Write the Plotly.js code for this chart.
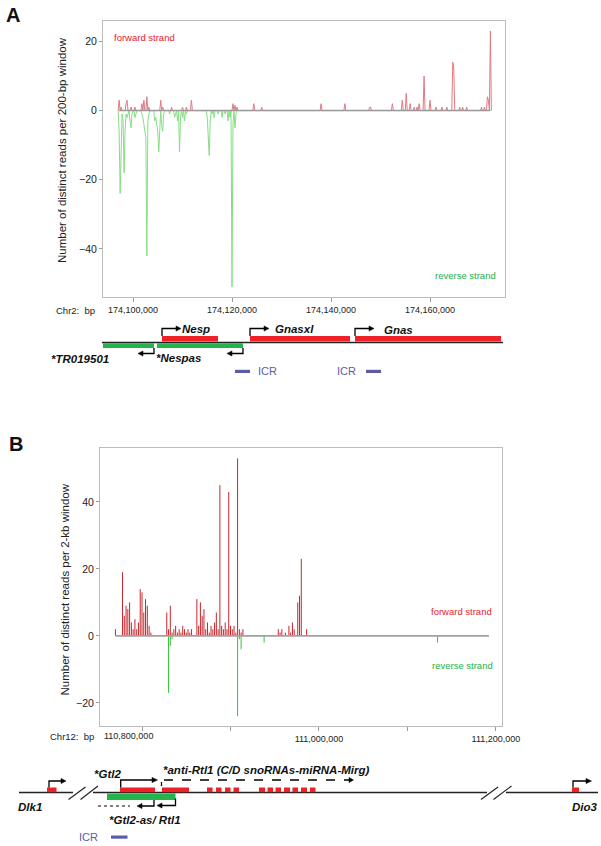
<!DOCTYPE html>
<html><head><meta charset="utf-8">
<script src="https://cdn.plot.ly/plotly-3.0.1.min.js"></script>
<style>html,body{margin:0;padding:0;background:#fff}#chart{width:601px;height:846px}</style>
</head><body><div id="chart"></div>
<script>
// ---------------- Panel A data (200-bp windows, Chr2) ----------------
const fwdA_pos = [174097200,174097600,174098600,174098800,174099600,174100400,174101800,174102200,174102800,174103200,
  174105600,174106000,174107800,174110000,174110800,174111800,174120200,174120600,174121000,174124400,174126000,
  174138000,174142800,174147800,174148000,174152400,174154400,174155200,174156000,174156800,174157400,174157800,
  174158800,174160000,174161200,174162400,174163400,174164600,174164800,174166000,174166600,174167400,174170400,
  174171000,174171600,174171800,174172200];
const fwdA_val = [3,1,2,3,1,1,2,3,4,1,
  3,1,1,1,1,3,2,1.5,1,2,1,
  2,2,1,1,2,3,5,2,1,1,2,
  10,3,1,1,1,14,12,1,1,1,1,
  1,4,3,23];
const revA_pos = [174097200,174097400,174097600,174097800,174098000,174098200,174098400,174098600,174098800,174099000,
  174099400,174099600,174099800,174100400,174100600,
  174101800,174102000,174102200,174102400,174102600,174102800,174103000,174103200,
  174104400,174104600,174104800,174105000,174105200,174105400,174105800,174106000,174106200,
  174107400,174108400,174108600,174109000,174109400,174109600,174110000,174110400,174110800,
  174115000,174115200,174115400,174115600,174116000,174116400,174117200,174118000,174118600,174119200,174119600,
  174120000,174120200,174120600,174120800];
const revA_val = [-6,-24,-8,-1,-3,-18,-6,-1,-2,-1,
  -3,-5,-1,-2,-1,
  -1,-2,-4,-6,-8,-42,-3,-1,
  -3,-2,-4,-6,-12,-3,-4,-6,-1,
  -1,-2,-1,-3,-12,-2,-2,-3,-1,
  -2,-6,-13,-3,-1,-2,-1,-2,-1,-3,-2,
  -51,-4,-5,-1];
const regionA = [174097200, 174172200];
const tickA = [174100000, 174120000, 174140000, 174160000];
const tickA_text = ['174,100,000', '174,120,000', '174,140,000', '174,160,000'];
const yTickA = [-40, -20, 0, 20];

// Genes of panel A (bp)
const geneA_name = ['Nesp', 'Gnasxl', 'Gnas', '*TR019501', '*Nespas'];
const geneA_start = [174105860, 174123640, 174144850, 174093940, 174104850];
const geneA_end = [174117170, 174143840, 174174340, 174104240, 174122220];
const geneA_strand = ['+', '+', '+', '-', '-'];
const icrA_start = [174120600, 174147070];
const icrA_end = [174123640, 174150100];

// ---------------- Panel B data (2-kb windows, Chr12) ----------------
const fwdB_pos = [110770000,110778000,110780000,110782000,110784000,110786000,110788000,110790000,110792000,110794000,
  110796000,110798000,110800000,110802000,110804000,110806000,110808000,110810000,
  110828000,110830000,110832000,110834000,110836000,110838000,110840000,110842000,110844000,110846000,110848000,
  110850000,110852000,110854000,110856000,
  110862000,110864000,110866000,110868000,110870000,110872000,110874000,110876000,110878000,110880000,110882000,
  110884000,110886000,110888000,110890000,110892000,110894000,110896000,110898000,110900000,110902000,110904000,
  110906000,110908000,110910000,110912000,110914000,
  110954000,110956000,110958000,110962000,110966000,110968000,110970000,110972000,110976000,110978000,110980000,
  110986000];
const fwdB_val = [2,19,6,9,8,10,4,2,5,2,
  4,14,13,7,11,9,3,1,
  7,2,9,1,2,3,1,2,1,3,2,
  1,2,1,2,
  11,3,10,6,8,2,4,1,3,2,4,
  7,2,45,3,2,4,2,43,3,2,3,
  1,53,2,1,2,
  2,1,2,1,3,1,4,2,10,12,23,
  2];
const revB_pos = [110830000,110832000,110834000,110908000,110910000,110912000,110938000,111134000];
const revB_val = [-17,-3,-1,-24,-1,-4,-2,-2];
const regionB = [110770000, 111192000];
const tickB = [110800000, 110900000, 111000000, 111100000, 111200000];
const tickB_text = ['', '', '111,000,000', '', '111,200,000'];
const yTickB = [-20, 0, 20, 40];

// ---------------- helpers ----------------
const W = 601, H = 846;
const X = px => px / W;
const Y = py => 1 - py / H;
const SANS = 'Liberation Sans, Arial, Helvetica, sans-serif';

function spikeSeries(pos, val, step) {
  const xs = [], ys = [];
  for (let i = 0; i < pos.length; i++) {
    const prevAdj = i > 0 && pos[i] - pos[i - 1] <= step;
    const nextAdj = i < pos.length - 1 && pos[i + 1] - pos[i] <= step;
    if (!prevAdj) { xs.push(pos[i] - step); ys.push(0); }
    xs.push(pos[i]); ys.push(val[i]);
    if (!nextAdj) { xs.push(pos[i] + step); ys.push(0); }
  }
  return { xs, ys };
}
function needleSeries(pos, val) {
  const xs = [], ys = [];
  for (let i = 0; i < pos.length; i++) { xs.push(pos[i], pos[i], null); ys.push(0, val[i], null); }
  return { xs, ys };
}

const xrA = [174093940, 174175150];
const xrB = [110752540, 111206800];
const bpPxA = (xrA[1] - xrA[0]) / 402;

const sAf = spikeSeries(fwdA_pos, fwdA_val, 200);
const sAr = spikeSeries(revA_pos, revA_val, 200);
const sBf = needleSeries(fwdB_pos, fwdB_val);
const sBr = needleSeries(revB_pos, revB_val);

const traces = [
  { x: sAf.xs, y: sAf.ys, xaxis: 'x', yaxis: 'y', mode: 'lines', line: { color: '#e27a82', width: 1 }, hoverinfo: 'skip' },
  { x: sAr.xs, y: sAr.ys, xaxis: 'x', yaxis: 'y', mode: 'lines', line: { color: '#86de86', width: 1 }, hoverinfo: 'skip' },
  { x: regionA, y: [0, 0], xaxis: 'x', yaxis: 'y', mode: 'lines', line: { color: '#9a9a9a', width: 1.5 }, hoverinfo: 'skip' },
  { x: sBf.xs, y: sBf.ys, xaxis: 'x2', yaxis: 'y2', mode: 'lines', line: { color: '#c8262c', width: 1 }, hoverinfo: 'skip', connectgaps: false },
  { x: sBr.xs, y: sBr.ys, xaxis: 'x2', yaxis: 'y2', mode: 'lines', line: { color: '#35c43a', width: 1 }, hoverinfo: 'skip', connectgaps: false },
  { x: regionB, y: [0, 0], xaxis: 'x2', yaxis: 'y2', mode: 'lines', line: { color: '#a0a0a0', width: 1.8 }, hoverinfo: 'skip' }
];

// ---------------- shapes ----------------
const shapes = [];
const RED = '#ee2126', GREEN = '#25b34b', ICR = '#5a5ca6';
function rect(xref, x0, x1, y0, y1, color) {
  shapes.push({ type: 'rect', xref, yref: 'paper', x0, x1, y0: Y(y1), y1: Y(y0), fillcolor: color, line: { width: 0 } });
}
function line(xref, x0, y0, x1, y1, opts) {
  shapes.push(Object.assign({ type: 'line', xref, yref: 'paper', x0, y0: Y(y0), x1, y1: Y(y1), line: { color: '#000', width: 1.3 } }, opts || {}));
}
function arrow(xref, x0, x1, xt, yb, yc, dash) {
  shapes.push({ type: 'path', xref, yref: 'paper', path: `M ${x0},${Y(yb)} L ${x0},${Y(yc)} L ${x1},${Y(yc)}`,
    line: { color: '#000', width: 1.3, dash: dash || 'solid' } });
  shapes.push({ type: 'path', xref, yref: 'paper', path: `M ${x1},${Y(yc - 2.6)} L ${xt},${Y(yc)} L ${x1},${Y(yc + 2.6)} Z`,
    fillcolor: '#000', line: { color: '#000', width: 0.5 } });
}

// Panel A gene diagram
line('paper', X(102), 342.4, X(503), 342.4, { line: { color: '#222', width: 1.5 } });
for (let i = 0; i < geneA_name.length; i++) {
  if (geneA_strand[i] === '+') {
    rect('x', geneA_start[i], geneA_end[i], 336, 341.6, RED);
    const x1 = geneA_start[i] + 14 * bpPxA;
    arrow('x', geneA_start[i], x1, x1 + 5 * bpPxA, 336, 328.5);
  } else {
    rect('x', geneA_start[i], geneA_end[i], 343.2, 348, GREEN);
    const x1 = geneA_end[i] - 11 * bpPxA;
    arrow('x', geneA_end[i], x1, x1 - 5 * bpPxA, 348, 353.5);
  }
}
for (let i = 0; i < icrA_start.length; i++) rect('x', icrA_start[i], icrA_end[i], 369.8, 373, ICR);

// Panel B schematic (not to scale)
line('paper', X(19), 792.5, X(73), 792.5, { line: { color: '#222', width: 1.5 } });
line('paper', X(93), 792.5, X(487), 792.5, { line: { color: '#222', width: 1.5 } });
line('paper', X(506), 792.5, X(598), 792.5, { line: { color: '#222', width: 1.5 } });
line('paper', X(68.5), 799.5, X(85.5), 787, { line: { color: '#222', width: 1.2 } });
line('paper', X(80.5), 799.5, X(98), 786, { line: { color: '#222', width: 1.2 } });
line('paper', X(481), 799.5, X(498), 787, { line: { color: '#222', width: 1.2 } });
line('paper', X(493.5), 799.5, X(511.5), 786, { line: { color: '#222', width: 1.2 } });
[[47, 56.5], [120, 155], [162, 189], [207, 212.5], [216, 221.5], [225, 230.5], [233.5, 239],
 [259, 265], [267.5, 273], [275.5, 281], [284, 290], [292.5, 298], [301, 307], [310, 315.5], [572, 579]]
  .forEach(b => rect('paper', X(b[0]), X(b[1]), 787.5, 792.2, RED));
rect('paper', X(107), X(175.5), 793.4, 800, GREEN);
arrow('paper', X(49), X(61), X(66), 787.5, 781);
arrow('paper', X(120.7), X(152), X(157.5), 787.5, 780);
arrow('paper', X(573), X(586), X(591.5), 787.5, 781);
line('paper', X(161.5), 782, X(161.5), 786, { line: { color: '#000', width: 1.3 } });
arrow('paper', X(164), X(349), X(353.5), 780, 780, 'dash');
arrow('paper', X(154), X(142), X(137), 800, 806);
arrow('paper', X(175.5), X(162), X(157), 798.5, 805.5);
line('paper', X(98), 806, X(130), 806, { line: { color: '#000', width: 1.2, dash: 'dot' } });
rect('paper', X(111), X(127.5), 835.5, 838.7, ICR);

// ---------------- annotations ----------------
const ann = [];
function txt(t, xpx, ypx, size, color, opts) {
  ann.push(Object.assign({ text: t, xref: 'paper', yref: 'paper', x: X(xpx), y: Y(ypx), xanchor: 'center', yanchor: 'middle',
    showarrow: false, font: { size, family: SANS, color: color || '#111' } }, opts || {}));
}
const BI = (s) => `<b><i>${s}</i></b>`;
txt('<b>A</b>', 13, 14.5, 20);
txt('<b>B</b>', 15.5, 444, 20);
txt('Number of distinct reads per 200-bp window', 62, 150, 11.5, '#222', { textangle: -90 });
txt('Number of distinct reads per 2-kb window', 64.5, 590, 11.5, '#222', { textangle: -90 });
txt('forward strand', 144.5, 38, 9.5, '#e8192c');
txt('reverse strand', 465, 275, 9.5, '#1fae4a');
txt('forward strand', 461, 611, 9.5, '#e3262e');
txt('reverse strand', 462, 665, 9.5, '#22b24c');
txt('Chr2:  bp', 75, 310, 9.5, '#222');
txt('Chr12:  bp', 71.5, 736, 9.5, '#222');
txt('110,800,000', 128.5, 736, 9, '#222');
const labA_x = [196, 294, 398, 80, 178];
const labA_y = [329, 329, 330.5, 359, 358];
for (let i = 0; i < geneA_name.length; i++) txt(BI(geneA_name[i]), labA_x[i], labA_y[i], 11.5);
txt('ICR', 267, 371, 11, ICR);
txt('ICR', 346, 371, 11, ICR);
txt(BI('Dlk1'), 30, 806.5, 11.5);
txt(BI('*Gtl2'), 107, 774, 11.5);
txt(BI('*anti-Rtl1 (C/D snoRNAs-miRNA-Mirg)'), 266, 770, 11.5);
txt(BI('*Gtl2-as/ Rtl1'), 144.5, 820, 11.5);
txt(BI('Dio3'), 585, 806.5, 11.5);
txt('ICR', 88.5, 837, 11, ICR);

// ---------------- axes ----------------
const frame = { showline: true, mirror: true, linecolor: '#bcbcbc', linewidth: 1, showgrid: false, zeroline: false,
  ticks: 'outside', tickcolor: '#9a9a9a', tickwidth: 1, fixedrange: true };
const tfx = { size: 9, family: SANS, color: '#222' };
const tfy = { size: 10.5, family: SANS, color: '#222' };

const layout = {
  width: W, height: H, margin: { l: 0, r: 0, t: 0, b: 0 }, paper_bgcolor: '#fff', plot_bgcolor: '#fff',
  showlegend: false, font: { family: SANS },
  xaxis: Object.assign({}, frame, { domain: [X(103), X(505)], range: xrA, anchor: 'y', tickvals: tickA, ticktext: tickA_text, ticklen: 4, tickfont: tfx }),
  yaxis: Object.assign({}, frame, { domain: [Y(297), Y(21)], range: [-53.9, 25.9], anchor: 'x', tickvals: yTickA, ticklen: 3, tickfont: tfy }),
  xaxis2: Object.assign({}, frame, { domain: [X(100), X(502)], range: xrB, anchor: 'y2', tickvals: tickB, ticktext: tickB_text, ticklen: 4, tickfont: tfx }),
  yaxis2: Object.assign({}, frame, { domain: [Y(726), Y(448)], range: [-26.9, 56.1], anchor: 'x2', tickvals: yTickB, ticklen: 3, tickfont: tfy }),
  shapes, annotations: ann
};
Plotly.newPlot('chart', traces, layout, { staticPlot: true, displayModeBar: false });
</script></body></html>
